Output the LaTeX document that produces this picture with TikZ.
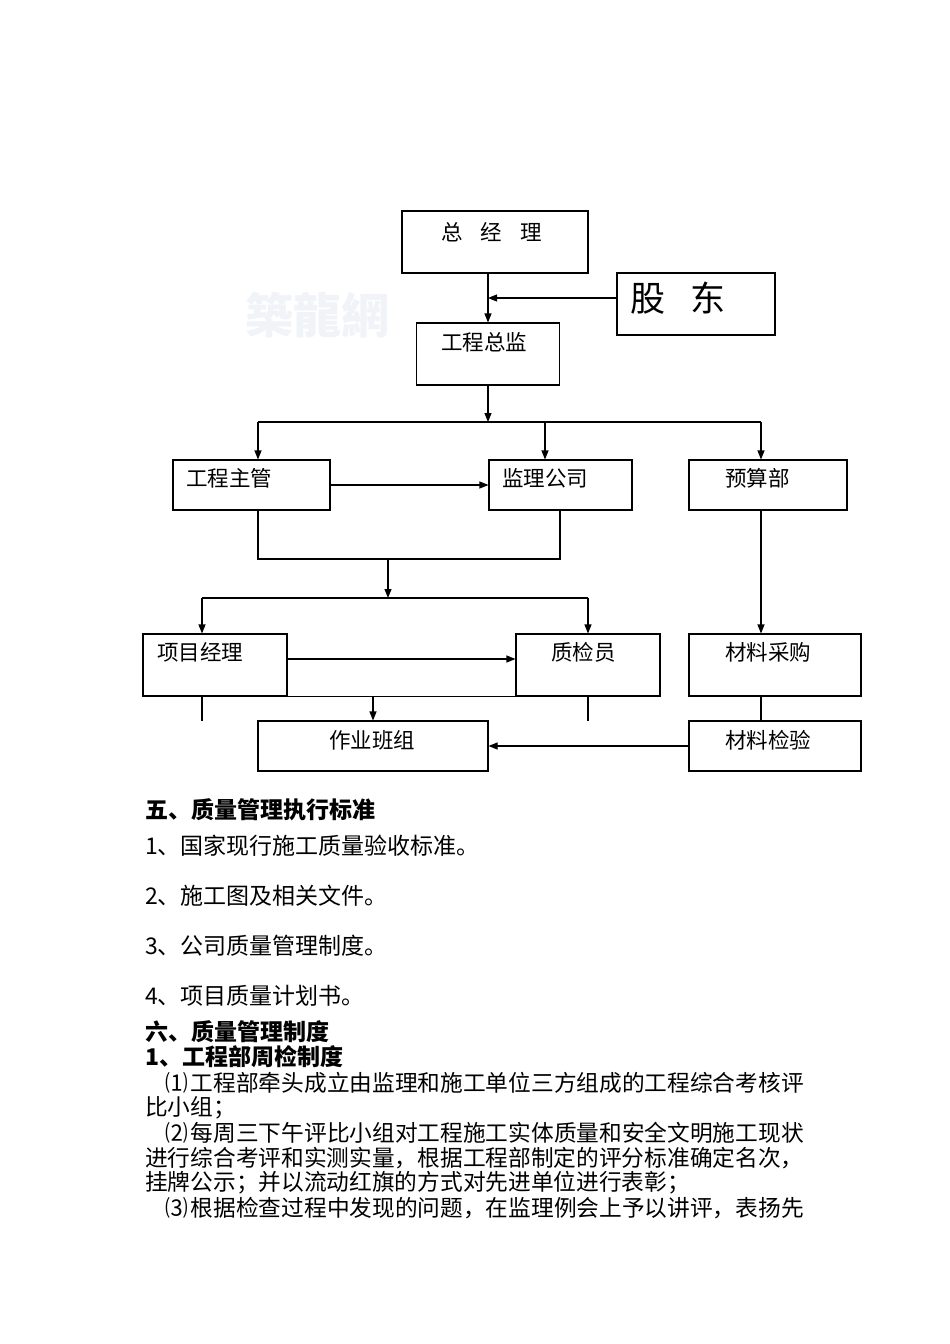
\documentclass[tikz,border=0pt]{standalone}
\usepackage{fontspec}
\setmainfont{Noto Sans CJK SC}
\usetikzlibrary{arrows.meta}
\definecolor{wm}{RGB}{240,243,248}
\begin{document}
\begin{tikzpicture}[x=1pt,y=-1pt,
  box/.style={draw,line width=1.1pt,inner sep=0pt},
  lbl/.style={anchor=west,inner sep=0pt,font=\fontsize{21.5}{21.5}\selectfont},
  txt/.style={anchor=west,inner sep=0pt,font=\fontsize{22.7}{22.7}\selectfont},
  hd/.style={anchor=west,inner sep=0pt,font=\fontsize{23}{23}\selectfont\bfseries},
  con/.style={line width=1.1pt},
  arr/.style={line width=1.1pt,-{Triangle[length=9pt,width=7pt]}}]
\useasboundingbox[fill=white] (0,0) rectangle (950,1344);
% watermark
\node[anchor=west,inner sep=0pt,text=wm,font=\fontsize{48}{48}\selectfont\bfseries] (wmk) at (245,315) {築龍網};
% boxes
\node[box,minimum width=186pt,minimum height=62pt] (zjl) at (495,242) {};
\node[box,minimum width=158pt,minimum height=62pt] (gd) at (696,304) {};
\node[box,minimum width=143pt,minimum height=62pt] (gczj) at (488,354) {};
\node[box,minimum width=157pt,minimum height=50pt] (gczg) at (251.5,485) {};
\node[box,minimum width=143pt,minimum height=50pt] (jlgs) at (560.5,485) {};
\node[box,minimum width=158pt,minimum height=50pt] (ysb) at (768,485) {};
\node[box,minimum width=144pt,minimum height=62pt] (xmjl) at (215,665) {};
\node[box,minimum width=144pt,minimum height=62pt] (zjy) at (588,665) {};
\node[box,minimum width=172pt,minimum height=62pt] (clcg) at (775,665) {};
\node[box,minimum width=230pt,minimum height=50pt] (zybz) at (373,746) {};
\node[box,minimum width=172pt,minimum height=50pt] (cljy) at (775,746) {};
% labels
\node[lbl] (t1) at (441,232) {总\hspace{18pt}经\hspace{18pt}理};
\node[lbl,font=\fontsize{35}{35}\selectfont] (t2) at (630,298) {股\hspace{25pt}东};
\node[lbl] (t3) at (441,342) {工程总监};
\node[lbl] (t4) at (186,478) {工程主管};
\node[lbl] (t5) at (502,478) {监理公司};
\node[lbl] (t6) at (725,478) {预算部};
\node[lbl] (t7) at (157,652) {项目经理};
\node[lbl] (t8) at (551,652) {质检员};
\node[lbl] (t9) at (725,652) {材料采购};
\node[lbl] (t10) at (329,740) {作业班组};
\node[lbl] (t11) at (725,740) {材料检验};
% coordinates
\coordinate (b0) at (488,422);
\coordinate (b1) at (258,422);
\coordinate (b2) at (545,422);
\coordinate (b3) at (761,422);
\coordinate (m0) at (388,559);
\coordinate (m1) at (258,559);
\coordinate (m2) at (560,559);
\coordinate (c0) at (388,598);
\coordinate (c1) at (202,598);
\coordinate (c2) at (588,598);
\coordinate (d0) at (373,696);
\coordinate (d1) at (202,721);
\coordinate (d2) at (588,721);
% connectors
\draw[arr] (gczj.north |- zjl.south) -- (gczj.north);
\draw[arr] ([yshift=6pt]gd.west) -- ([yshift=6pt]gd.west -| gczj.north);
\draw[arr] (gczj.south) -- (b0);
\draw[con] (b1) -- (b3);
\draw[arr] (b1) -- (b1 |- gczg.north);
\draw[arr] (b2) -- (b2 |- jlgs.north);
\draw[arr] (b3) -- (b3 |- ysb.north);
\draw[arr] (gczg.east) -- (jlgs.west);
\draw[con] (m1 |- gczg.south) -- (m1) -- (m2) -- (m2 |- jlgs.south);
\draw[arr] (m0) -- (c0);
\draw[con] (c1) -- (c2);
\draw[arr] (c1) -- (c1 |- xmjl.north);
\draw[arr] (c2) -- (zjy.north);
\draw[arr] ([yshift=6pt]xmjl.east) -- ([yshift=6pt]zjy.west);
\draw[con] (xmjl.south east) -- (zjy.south west);
\draw[arr] (d0) -- (zybz.north);
\draw[con] (d1 |- xmjl.south) -- (d1);
\draw[con] (d2 |- zjy.south) -- (d2);
\draw[arr] (b3 |- ysb.south) -- (b3 |- clcg.north);
\draw[con] (b3 |- clcg.south) -- (b3 |- cljy.north);
\draw[arr] (cljy.west) -- (zybz.east);
% text
\node[hd] (h1) at (145,810) {五、质量管理执行标准};
\node[txt,font=\fontsize{23}{23}\selectfont] (l1) at (145,846) {1、国家现行施工质量验收标准。};
\node[txt,font=\fontsize{23}{23}\selectfont] (l2) at (145,896) {2、施工图及相关文件。};
\node[txt,font=\fontsize{23}{23}\selectfont] (l3) at (145,946) {3、公司质量管理制度。};
\node[txt,font=\fontsize{23}{23}\selectfont] (l4) at (145,996) {4、项目质量计划书。};
\node[hd] (h2) at (145,1032) {六、质量管理制度};
\node[hd] (h3) at (145,1057) {1、工程部周检制度};
\node[txt] (p1) at (165,1083) {⑴\hspace{3pt}工程部牵头成立由监理和施工单位三方组成的工程综合考核评};
\node[txt] (p2) at (145,1108) {比小组；};
\node[txt] (p3) at (165,1133) {⑵\hspace{3pt}每周三下午评比小组对工程施工实体质量和安全文明施工现状};
\node[txt] (p4) at (145,1158) {进行综合考评和实测实量，根据工程部制定的评分标准确定名次，};
\node[txt] (p5) at (145,1183) {挂牌公示；并以流动红旗的方式对先进单位进行表彰；};
\node[txt] (p6) at (165,1208) {⑶\hspace{3pt}根据检查过程中发现的问题，在监理例会上予以讲评，表扬先};
\end{tikzpicture}
\end{document}
